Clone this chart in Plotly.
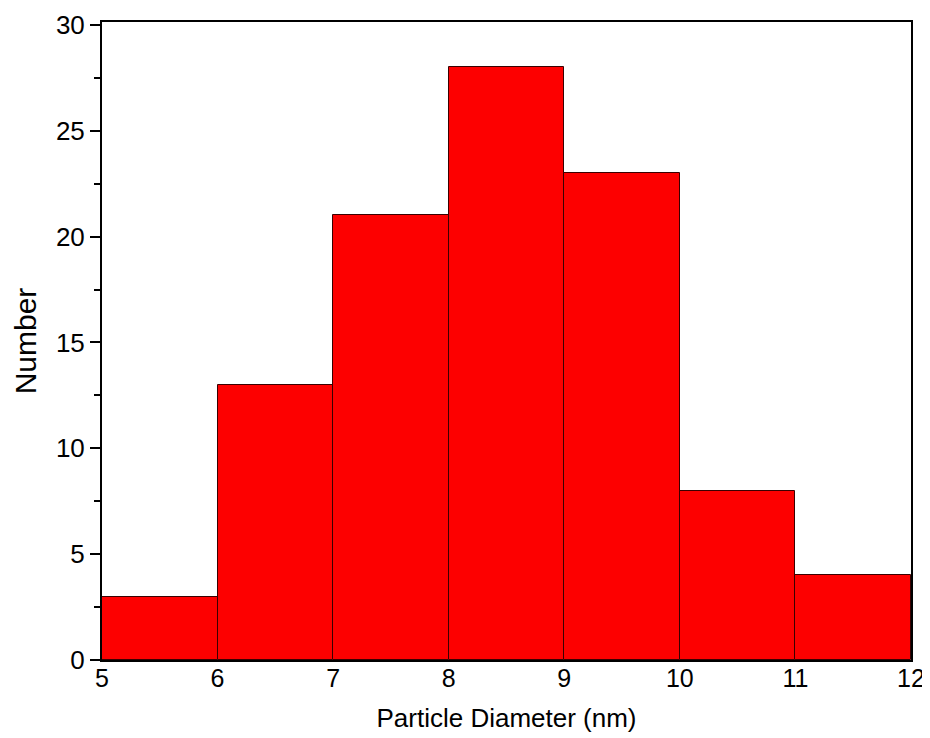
import plotly.graph_objects as go

bin_left = [5, 6, 7, 8, 9, 10, 11]
counts = [3, 13, 21, 28, 23, 8, 4]
x_ticks = [5, 6, 7, 8, 9, 10, 11, 12]
y_ticks = [0, 5, 10, 15, 20, 25, 30]

fig = go.Figure()
fig.add_trace(go.Bar(
    x=bin_left, y=counts, width=1, offset=0,
    marker=dict(color="#fd0000", line=dict(color="#3a0000", width=1)),
))

font = "Liberation Sans, Arial, sans-serif"
# page body adds an 8px margin; figure sized to fit the 930x738 window
fig.update_layout(
    width=922, height=730,
    margin=dict(l=94, r=19, t=14, b=78, autoexpand=False),
    plot_bgcolor="white", paper_bgcolor="white",
    showlegend=False, bargap=0,
    font=dict(family=font, size=26, color="black"),
)
fig.update_xaxes(
    range=[5, 12], tickvals=x_ticks, ticks="", showgrid=False, zeroline=False,
    showline=True, linecolor="black", linewidth=2, mirror=True,
    tickfont=dict(size=25), automargin=False, ticklabelstandoff=-5,
    title=dict(text="Particle Diameter (nm)", font=dict(size=26), standoff=18),
)
fig.update_yaxes(
    range=[0, 30.14], tickvals=y_ticks, ticks="outside", ticklen=10, tickwidth=2,
    tickcolor="black", showgrid=False, zeroline=False,
    showline=True, linecolor="black", linewidth=2, mirror=True,
    minor=dict(dtick=2.5, tick0=0, ticks="outside", ticklen=6, tickwidth=1.5, tickcolor="black", showgrid=False),
    tickfont=dict(size=26), automargin=False,
    title=dict(text="Number", font=dict(size=30), standoff=10),
)
fig.write_html("out.html")
